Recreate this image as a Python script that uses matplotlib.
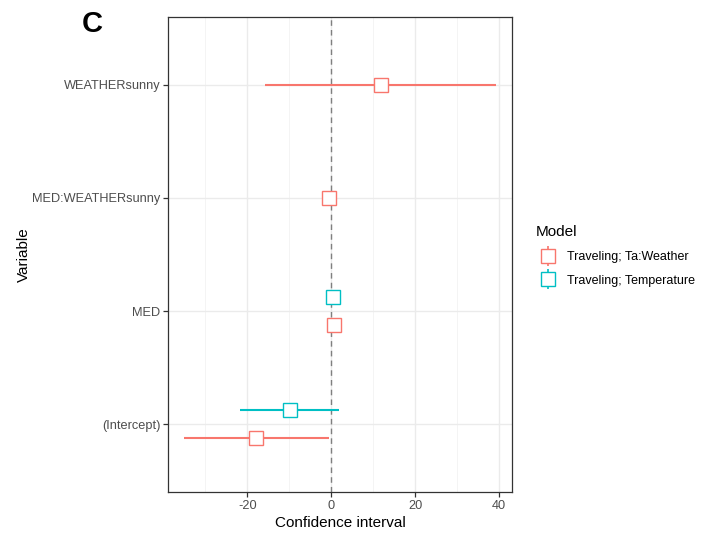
import matplotlib
matplotlib.use("Agg")
import matplotlib.pyplot as plt
from matplotlib.lines import Line2D
from matplotlib.legend_handler import HandlerTuple
from matplotlib.ticker import MultipleLocator

plt.rcParams["font.family"] = ["Liberation Sans", "DejaVu Sans"]

# categories on the y axis (bottom to top)
variables = ["(Intercept)", "MED", "MED:WEATHERsunny", "WEATHERsunny"]

# model: Traveling; Ta:Weather
weather_vars = ["(Intercept)", "MED", "MED:WEATHERsunny", "WEATHERsunny"]
weather_est = [-17.9, 0.7, -0.5, 11.8]
weather_lo = [-35.2, 0.2, -0.9, -15.7]
weather_hi = [-0.5, 1.2, -0.1, 39.2]

# model: Traveling; Temperature
temp_vars = ["(Intercept)", "MED"]
temp_est = [-9.8, 0.4]
temp_lo = [-21.7, 0.0]
temp_hi = [1.8, 0.8]

red = "#F8766D"
teal = "#00BFC4"

fig = plt.figure(figsize=(7.02, 5.36), dpi=100)
ax = fig.add_axes([0.2393, 0.0821, 0.4905, 0.8862])
ax.set_axisbelow(True)

# grid like theme_bw
ax.xaxis.set_major_locator(MultipleLocator(20))
ax.xaxis.set_minor_locator(MultipleLocator(10))
ax.grid(which="major", color="#EBEBEB", linewidth=1.0)
ax.grid(which="minor", axis="x", color="#F2F2F2", linewidth=0.6)
ax.axvline(0, color="#7F7F7F", linestyle=(0, (4, 3)), linewidth=1.0, zorder=2)


def draw_model(vars_, est, lo, hi, color, offset):
    for v, e, l, h in zip(vars_, est, lo, hi):
        y = variables.index(v) + 1
        if v in weather_vars and v in temp_vars:
            y += offset
        ax.errorbar([e], [y], xerr=[[e - l], [h - e]], fmt="s", color=color,
                    ecolor=color, elinewidth=1.5, capsize=0, markersize=10,
                    markerfacecolor="white", markeredgecolor=color,
                    markeredgewidth=1.0, zorder=3)


draw_model(weather_vars, weather_est, weather_lo, weather_hi, red, -0.125)
draw_model(temp_vars, temp_est, temp_lo, temp_hi, teal, 0.125)

ax.set_xlim(-38.9, 43.1)
ax.set_ylim(0.4, 4.6)
ax.set_yticks(range(1, len(variables) + 1))
ax.set_yticklabels(variables)
ax.set_xticks([-20, 0, 20, 40])
ax.set_xticklabels(["-20", "0", "20", "40"])

ax.tick_params(axis="both", which="major", labelsize=9.2, labelcolor="#4D4D4D",
               color="#333333", length=3.5, width=0.9, pad=2)
ax.tick_params(axis="x", which="minor", length=0)
for s in ax.spines.values():
    s.set_color("#333333")
    s.set_linewidth(0.9)

ax.set_xlabel("Confidence interval", fontsize=11, labelpad=3)
ax.set_ylabel("Variable", fontsize=11, labelpad=1)

fig.text(0.131, 0.955, "C", fontsize=21, fontweight="bold", ha="center", va="center")

# legend keys: vertical line with open square
def key(color):
    vline = Line2D([], [], marker="|", markersize=15, linestyle="none",
                   color=color, markeredgewidth=1.2)
    sq = Line2D([], [], marker="s", markersize=10, linestyle="none",
                markerfacecolor="white", markeredgecolor=color, markeredgewidth=1.0)
    return (vline, sq)

leg = fig.legend([key(red), key(teal)],
                 ["Traveling; Ta:Weather", "Traveling; Temperature"],
                 handler_map={tuple: HandlerTuple(ndivide=1)},
                 title="Model", loc="upper left", bbox_to_anchor=(0.747, 0.601),
                 frameon=False, fontsize=9, title_fontsize=11,
                 handlelength=2.0, handletextpad=0.5, labelspacing=0.95)
leg._legend_box.align = "left"

fig.savefig("out.png", dpi=100)
